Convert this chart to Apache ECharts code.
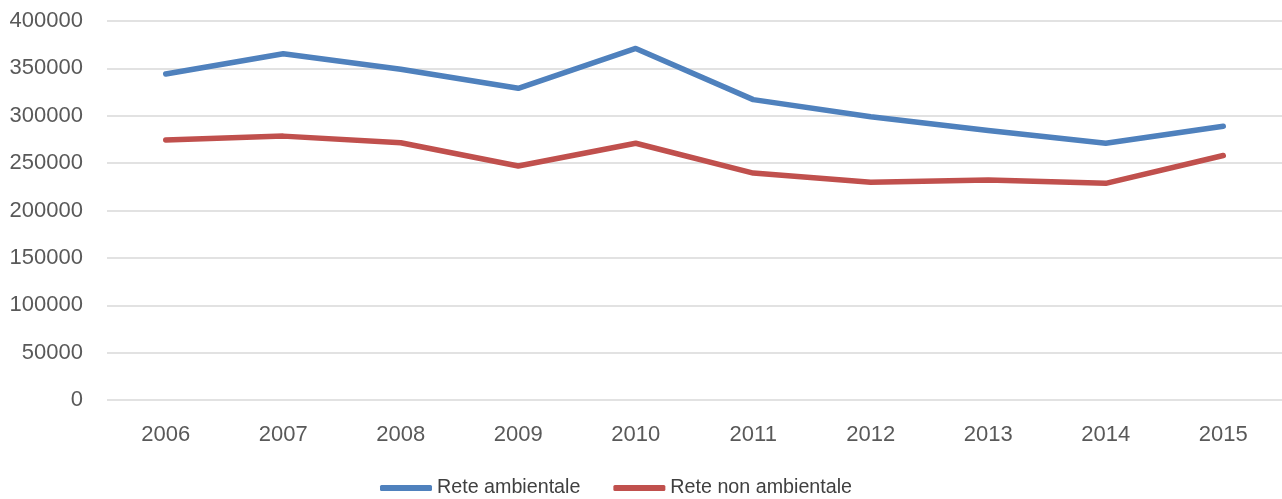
<!DOCTYPE html>
<html>
<head>
<meta charset="utf-8">
<script src="https://cdn.jsdelivr.net/npm/echarts@6/dist/echarts.min.js"></script>
<style>
  html, body { margin: 0; padding: 0; background: #fff; }
  #main { width: 1282px; height: 499px; }
</style>
</head>
<body>
<div id="main"></div>
<script>
// dati
var anni = ['2006', '2007', '2008', '2009', '2010', '2011', '2012', '2013', '2014', '2015'];
var reteAmbientale = [344000, 365500, 349000, 329000, 371000, 317000, 299000, 284500, 271000, 289000];
var reteNonAmbientale = [274500, 278500, 271500, 247000, 271000, 239500, 229700, 232300, 228700, 258000];

var chart = echarts.init(document.getElementById('main'));

var option = {
  animation: false,
  grid: { left: 107, right: 0, top: 21, bottom: 99 },
  legend: {
    bottom: 1,
    left: 380,
    padding: 0,
    itemGap: 33,
    itemWidth: 52,
    itemHeight: 6,
    icon: 'roundRect',
    textStyle: { fontFamily: 'Liberation Sans', fontSize: 19.7, color: '#404040' },
    data: ['Rete ambientale', 'Rete non ambientale']
  },
  xAxis: {
    type: 'category',
    data: anni,
    boundaryGap: true,
    axisLine: { show: false },
    axisTick: { show: false },
    axisLabel: { margin: 24, fontFamily: 'Liberation Sans', fontSize: 22, color: '#595959' }
  },
  yAxis: {
    type: 'value',
    min: 0,
    max: 400000,
    interval: 50000,
    axisLine: { show: false },
    axisTick: { show: false },
    axisLabel: {
      margin: 24,
      fontFamily: 'Liberation Sans',
      fontSize: 22,
      color: '#595959',
      formatter: function (v) { return String(v); }
    },
    splitLine: { lineStyle: { color: '#d9d9d9', width: 1.5 } }
  },
  series: [
    {
      name: 'Rete ambientale',
      type: 'line',
      data: reteAmbientale,
      symbol: 'none',
      itemStyle: { color: '#4f81bd' },
      lineStyle: { color: '#4f81bd', width: 5.5, cap: 'round', join: 'round' }
    },
    {
      name: 'Rete non ambientale',
      type: 'line',
      data: reteNonAmbientale,
      symbol: 'none',
      itemStyle: { color: '#c0504d' },
      lineStyle: { color: '#c0504d', width: 5.5, cap: 'round', join: 'round' }
    }
  ]
};

chart.setOption(option);

window.addEventListener('resize', function () {
  chart.resize();
});
</script>
</body>
</html>
